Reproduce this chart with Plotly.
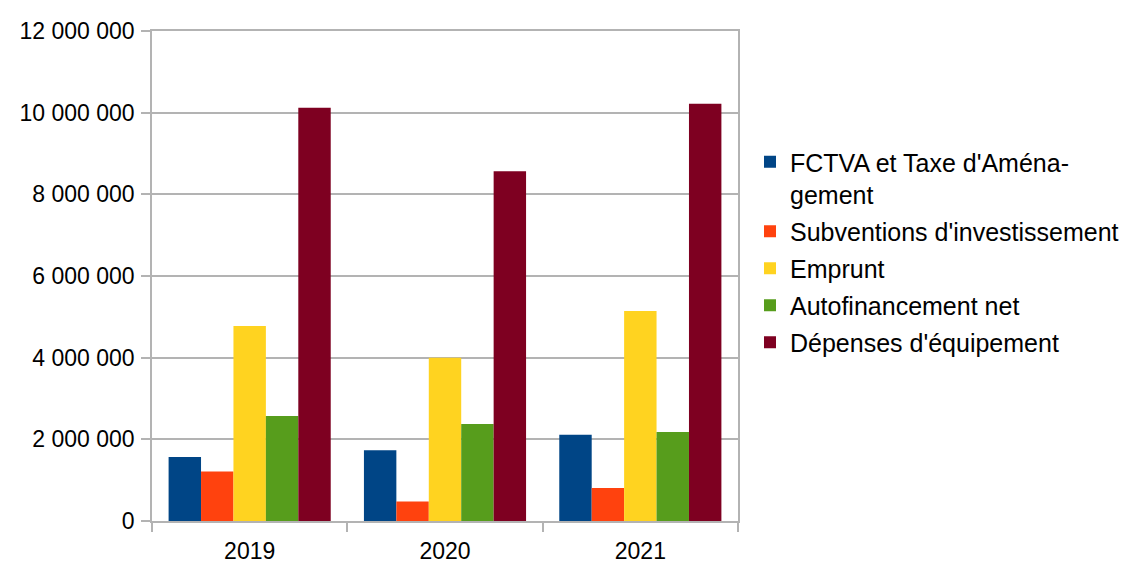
import plotly.graph_objects as go

years = ["2019", "2020", "2021"]
series_names = [
    "FCTVA et Taxe d'Aména-<br>gement",
    "Subventions d'investissement",
    "Emprunt",
    "Autofinancement net",
    "Dépenses d'équipement",
]
fctva = [1570000, 1730000, 2115000]
subventions = [1215000, 475000, 810000]
emprunt = [4775000, 4000000, 5140000]
autofinancement = [2570000, 2375000, 2180000]
depenses = [10120000, 8565000, 10220000]
colors = ["#004586", "#ff420e", "#ffd320", "#579d1c", "#7e0021"]

series_values = [fctva, subventions, emprunt, autofinancement, depenses]

fig = go.Figure()
for i, (name, vals, col) in enumerate(zip(series_names, series_values, colors)):
    fig.add_trace(go.Bar(x=years, y=vals, name=name, legendgroup=f"g{i}",
                         marker=dict(color=col, line=dict(width=0))))

grid = "#b3b3b3"
fig.update_layout(
    width=1128, height=563,
    margin=dict(l=152, r=390, t=31, b=42, autoexpand=False),
    paper_bgcolor="white", plot_bgcolor="white",
    barmode="group", bargap=0.17, bargroupgap=0,
    separators=", ",
    font=dict(family="Liberation Sans, Arial, sans-serif", size=22, color="#000000"),
    legend=dict(
        xref="container", yref="container",
        x=750 / 1128, y=1 - 139 / 563, xanchor="left", yanchor="top",
        valign="top", traceorder="grouped",
        font=dict(size=25, color="#000000"),
        tracegroupgap=1.5,
        bgcolor="rgba(0,0,0,0)",
    ),
    showlegend=True,
)
fig.update_xaxes(
    type="category", showgrid=False, automargin=False,
    showline=True, linecolor=grid, linewidth=1.5, mirror=True,
    ticks="outside", tickson="boundaries", ticklen=9, tickcolor=grid, tickwidth=1.5,
    ticklabelstandoff=9,
    tickfont=dict(size=23),
)
fig.update_yaxes(
    range=[0, 12000000], dtick=2000000, tickformat=",d", automargin=False,
    showgrid=True, gridcolor=grid, gridwidth=1.5,
    showline=True, linecolor=grid, linewidth=1.5, mirror=True,
    ticks="outside", ticklen=9, tickcolor=grid, tickwidth=1.5,
    ticklabelstandoff=2,
    tickfont=dict(size=23),
    zeroline=False,
)

fig.write_html("out.html")
